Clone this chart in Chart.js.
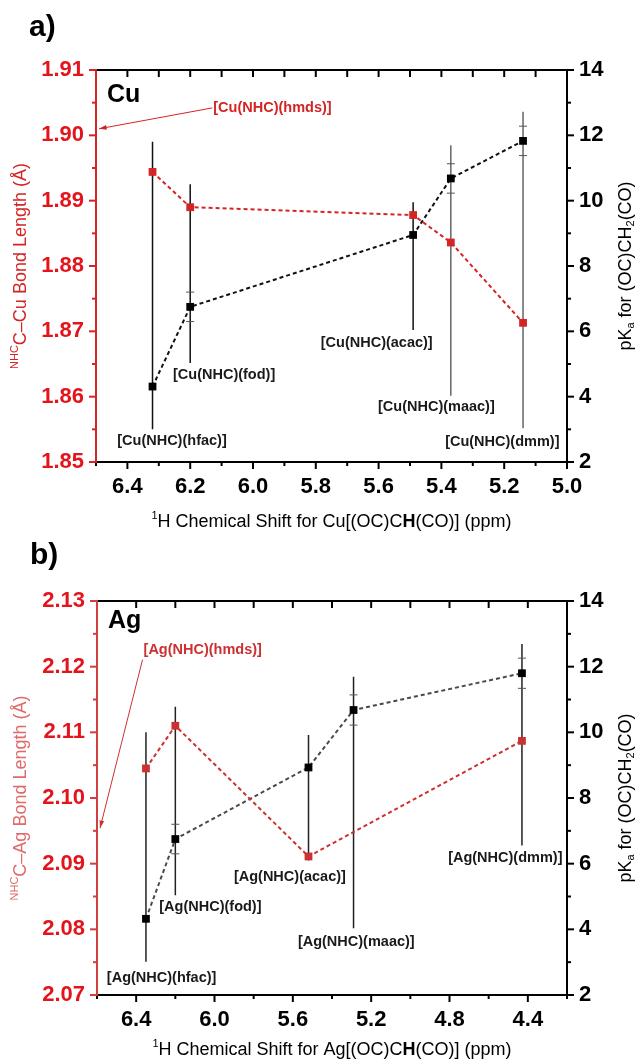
<!DOCTYPE html>
<html>
<head>
<meta charset="utf-8">
<script src="https://cdn.jsdelivr.net/npm/chart.js@4"></script>
<style>
  body { margin: 0; background: #fff; }
  canvas { position: absolute; left: 0; }
</style>
</head>
<body>
<canvas id="cuChart" width="635" height="532" style="top:0"></canvas>
<canvas id="agChart" width="635" height="529" style="top:532px"></canvas>
<script>
// ---- panel a : Cu ----
var cuLabels = ["[Cu(NHC)(hfac)]", "[Cu(NHC)(fod)]", "[Cu(NHC)(acac)]", "[Cu(NHC)(maac)]", "[Cu(NHC)(dmm)]"];
var cuShift = [6.32, 6.20, 5.49, 5.37, 5.14];          // ppm
var cuBond = [1.8944, 1.8890, 1.8878, 1.8836, 1.8713]; // Å
var cuPka = [4.31, 6.75, 8.95, 10.68, 11.83];
var cuPkaErr = [null, 0.45, null, 0.45, 0.45];
var cuLineTop = [11.8, 10.5, 9.95, 11.7, 12.72];       // leader lines, pKa units
var cuLineBottom = [3.0, 5.03, 6.04, 4.03, 3.03];
var cuHmdsBond = 1.901;
var cuTicksX = [6.4, 6.2, 6.0, 5.8, 5.6, 5.4, 5.2, 5.0];
var cuTicksBond = [1.85, 1.86, 1.87, 1.88, 1.89, 1.90, 1.91];

// ---- panel b : Ag ----
var agLabels = ["[Ag(NHC)(hfac)]", "[Ag(NHC)(fod)]", "[Ag(NHC)(acac)]", "[Ag(NHC)(maac)]", "[Ag(NHC)(dmm)]"];
var agShift = [6.35, 6.20, 5.52, 5.29, 4.43];
var agBond = [2.1045, 2.1110, 2.0911, null, 2.1087];
var agPka = [4.32, 6.75, 8.93, 10.68, 11.80];
var agPkaErr = [null, 0.45, null, 0.46, 0.46];
var agLineTop = [10.0, 10.78, 9.92, 11.69, 12.69];
var agLineBottom = [3.01, 5.04, 6.1, 4.03, 6.55];
var agHmdsBond = 2.0954;
var agTicksX = [6.4, 6.0, 5.6, 5.2, 4.8, 4.4];
var agTicksBond = [2.07, 2.08, 2.09, 2.10, 2.11, 2.12, 2.13];

var pkaTicks = [2, 4, 6, 8, 10, 12, 14];

var FONT = '"Liberation Sans", Arial, sans-serif';

function partFont(p, size) {
  var s = (p[1] == 'sup' || p[1] == 'sub') ? Math.round(size * 0.62) : size;
  return (p[1] == 'b' ? 'bold ' : '') + s + 'px ' + FONT;
}
function drawRich(ctx, parts, size, cx, cy, angle, color) {
  ctx.save();
  ctx.translate(cx, cy);
  ctx.rotate(angle);
  ctx.fillStyle = color;
  ctx.textBaseline = 'middle';
  ctx.textAlign = 'left';
  var w = 0;
  parts.forEach(function (p) { ctx.font = partFont(p, size); w += ctx.measureText(p[0]).width; });
  var x = -w / 2;
  parts.forEach(function (p) {
    ctx.font = partFont(p, size);
    var dy = p[1] == 'sup' ? -size * 0.35 : (p[1] == 'sub' ? size * 0.3 : 0);
    ctx.fillText(p[0], x, dy);
    x += ctx.measureText(p[0]).width;
  });
  ctx.restore();
}
function steps(min, max, step) {
  var out = [];
  for (var k = Math.ceil(min / step - 1e-6); k <= Math.floor(max / step + 1e-6); k++) out.push(k * step);
  return out;
}
function isMajor(v, list) {
  return list.some(function (m) { return Math.abs(m - v) < 1e-6; });
}

// frame, tick marks, error caps, texts
var deco = {
  id: 'deco',
  afterDraw: function (chart, args, o) {
    var ctx = chart.ctx, a = chart.chartArea;
    var sx = chart.scales.x, sy = chart.scales.y, sy2 = chart.scales.y2;
    ctx.save();
    ctx.lineCap = 'butt';

    // tick marks
    ctx.lineWidth = 2;
    ctx.strokeStyle = '#000';
    steps(sx.min, sx.max, o.xMinor).forEach(function (v) {
      var px = sx.getPixelForValue(v), len = isMajor(v, o.ticksX) ? 7 : 4;
      ctx.beginPath(); ctx.moveTo(px, a.bottom); ctx.lineTo(px, a.bottom + len); ctx.stroke();
    });
    steps(sx.min, sx.max, o.topStep).forEach(function (v) {
      var px = sx.getPixelForValue(v);
      ctx.beginPath(); ctx.moveTo(px, a.top); ctx.lineTo(px, a.top + 7); ctx.stroke();
    });
    steps(sy2.min, sy2.max, 1).forEach(function (v) {
      var py = sy2.getPixelForValue(v), len = isMajor(v, pkaTicks) ? 7 : 4;
      ctx.beginPath(); ctx.moveTo(a.right, py); ctx.lineTo(a.right + len, py); ctx.stroke();
    });
    ctx.strokeStyle = o.axisRed;
    steps(sy.min, sy.max, 0.005).forEach(function (v) {
      var py = sy.getPixelForValue(v), len = isMajor(v, o.ticksBond) ? 7 : 4;
      ctx.beginPath(); ctx.moveTo(a.left - len, py); ctx.lineTo(a.left, py); ctx.stroke();
    });

    // frame
    ctx.strokeStyle = '#000';
    ctx.beginPath();
    ctx.moveTo(a.left, a.top); ctx.lineTo(a.right, a.top); ctx.lineTo(a.right, a.bottom); ctx.lineTo(a.left, a.bottom);
    ctx.stroke();
    ctx.strokeStyle = o.axisRed;
    ctx.beginPath(); ctx.moveTo(a.left, a.top - 1); ctx.lineTo(a.left, a.bottom + 1); ctx.stroke();

    // error caps on pKa points
    ctx.lineWidth = 1;
    ctx.strokeStyle = '#555';
    o.shift.forEach(function (x, i) {
      if (o.err[i] == null) return;
      var px = sx.getPixelForValue(x);
      [o.pka[i] + o.err[i], o.pka[i] - o.err[i]].forEach(function (v) {
        var py = sy2.getPixelForValue(v);
        ctx.beginPath(); ctx.moveTo(px - 4, py); ctx.lineTo(px + 4, py); ctx.stroke();
      });
    });

    // compound labels
    ctx.fillStyle = '#1a1a1a';
    ctx.font = 'bold 14.5px ' + FONT;
    ctx.textAlign = 'center';
    ctx.textBaseline = 'middle';
    o.names.forEach(function (t, i) {
      ctx.fillText(t, sx.getPixelForValue(o.labelAt[i][0]), sy2.getPixelForValue(o.labelAt[i][1]));
    });

    // hmds annotation with arrow to the bond axis
    var tx = sx.getPixelForValue(o.hmdsAt[0]), ty = sy.getPixelForValue(o.hmdsAt[1]);
    ctx.fillStyle = o.red;
    ctx.fillText(o.hmdsName, tx, ty);
    var x0 = tx - ctx.measureText(o.hmdsName).width / 2 - 1, y0 = ty + o.arrowDy;
    var x1 = a.left + 3, y1 = sy.getPixelForValue(o.hmds);
    ctx.strokeStyle = o.red;
    ctx.lineWidth = 1;
    ctx.beginPath(); ctx.moveTo(x0, y0); ctx.lineTo(x1, y1); ctx.stroke();
    var ang = Math.atan2(y1 - y0, x1 - x0);
    ctx.beginPath();
    ctx.moveTo(x1, y1);
    ctx.lineTo(x1 - 8 * Math.cos(ang - 0.3), y1 - 8 * Math.sin(ang - 0.3));
    ctx.lineTo(x1 - 8 * Math.cos(ang + 0.3), y1 - 8 * Math.sin(ang + 0.3));
    ctx.closePath(); ctx.fill();

    // panel letter and metal
    ctx.fillStyle = '#000';
    ctx.textAlign = 'left';
    ctx.textBaseline = 'alphabetic';
    ctx.font = 'bold 30px ' + FONT;
    ctx.fillText(o.letter, o.letterPos[0], o.letterPos[1]);
    ctx.font = 'bold 25px ' + FONT;
    ctx.fillText(o.metal, a.left + 11, a.top + o.metalDy);

    // axis titles
    var cy = (a.top + a.bottom) / 2;
    drawRich(ctx, o.leftTitle, 18, 21, cy, -Math.PI / 2, o.titleRed);
    drawRich(ctx, [['pK', ''], ['a', 'sub'], [' for (OC)CH', ''], ['2', 'sub'], ['(CO)', '']], 18, 626, cy, -Math.PI / 2, '#000');
    drawRich(ctx, o.xTitle, 18, (a.left + a.right) / 2, o.xTitleY, 0, '#000');
    ctx.restore();
  }
};

function makePanel(id, d, look) {
  var datasets = [
    {
      data: d.shift.map(function (x, i) { return { x: x, y: d.bond[i] }; }),
      yAxisID: 'y', showLine: true, spanGaps: true,
      borderColor: look.red, backgroundColor: look.red, borderWidth: 2, borderDash: [4, 3],
      pointStyle: 'rect', pointRadius: 5.5, pointBorderWidth: 0
    },
    {
      data: d.shift.map(function (x, i) { return { x: x, y: d.pka[i] }; }),
      yAxisID: 'y2', showLine: true,
      borderColor: look.blackLine, backgroundColor: '#000', borderWidth: 2, borderDash: [4, 3],
      pointStyle: 'rect', pointRadius: 5.5, pointBorderWidth: 0
    }
  ];
  d.shift.forEach(function (x, i) {
    datasets.push({
      data: [{ x: x, y: d.lineTop[i] }, { x: x, y: d.lineBottom[i] }],
      yAxisID: 'y2', showLine: true, borderColor: look.lead[i], borderWidth: 1.5, pointRadius: 0
    });
  });

  var tickFont = { family: FONT, size: 22, weight: 'bold' };
  new Chart(document.getElementById(id), {
    type: 'scatter',
    data: { datasets: datasets },
    plugins: [deco],
    options: {
      responsive: false,
      animation: false,
      layout: { padding: { top: look.top, left: 0, right: 0, bottom: 0 } },
      plugins: {
        legend: { display: false },
        tooltip: { enabled: false },
        deco: Object.assign({}, look, {
          shift: d.shift, pka: d.pka, err: d.err, names: d.names, hmds: d.hmds,
          ticksX: d.ticksX, ticksBond: d.ticksBond
        })
      },
      scales: {
        x: {
          type: 'linear', position: 'bottom', reverse: true, min: look.xMin, max: look.xMax,
          grid: { display: false, drawTicks: false }, border: { display: false },
          ticks: { color: '#000', font: tickFont, padding: 12, autoSkip: false, maxRotation: 0,
                   callback: function (v) { return v.toFixed(1); } },
          afterBuildTicks: function (s) { s.ticks = d.ticksX.map(function (v) { return { value: v }; }); },
          afterFit: function (s) { s.height = look.bottomH; }
        },
        y: {
          position: 'left', min: d.ticksBond[0], max: d.ticksBond[d.ticksBond.length - 1],
          grid: { display: false, drawTicks: false }, border: { display: false },
          ticks: { color: look.tickRed, font: tickFont, padding: 12, autoSkip: false,
                   callback: function (v) { return v.toFixed(2); } },
          afterBuildTicks: function (s) { s.ticks = d.ticksBond.map(function (v) { return { value: v }; }); },
          afterFit: function (s) { s.width = look.leftW; }
        },
        y2: {
          position: 'right', min: 2, max: 14,
          grid: { display: false, drawTicks: false }, border: { display: false },
          ticks: { color: '#000', font: tickFont, padding: 12, autoSkip: false },
          afterBuildTicks: function (s) { s.ticks = pkaTicks.map(function (v) { return { value: v }; }); },
          afterFit: function (s) { s.width = look.rightW; }
        }
      }
    }
  });
}

makePanel('cuChart', {
  names: cuLabels, shift: cuShift, bond: cuBond, pka: cuPka, err: cuPkaErr,
  lineTop: cuLineTop, lineBottom: cuLineBottom, hmds: cuHmdsBond,
  ticksX: cuTicksX, ticksBond: cuTicksBond
}, {
  top: 70, leftW: 96, rightW: 68, bottomH: 70, xMin: 5.0, xMax: 6.5, xMinor: 0.1, topStep: 0.1,
  red: '#d42424', tickRed: '#e3141c', axisRed: '#d42424', titleRed: '#d42424',
  blackLine: '#111', lead: ['#111', '#111', '#111', '#666', '#666'],
  labelAt: [[6.258, 2.65], [6.092, 4.66], [5.606, 5.65], [5.416, 3.68], [5.206, 2.62]],
  hmdsName: '[Cu(NHC)(hmds)]', hmdsAt: [5.938, 1.9042], arrowDy: 0,
  letter: 'a)', letterPos: [29, 36], metal: 'Cu', metalDy: 32, xTitleY: 522,
  leftTitle: [['NHC', 'sup'], ['C\u2013Cu Bond Length (\u00c5)', '']],
  xTitle: [['1', 'sup'], ['H Chemical Shift for Cu[(OC)C', ''], ['H', 'b'], ['(CO)] (ppm)', '']]
});

makePanel('agChart', {
  names: agLabels, shift: agShift, bond: agBond, pka: agPka, err: agPkaErr,
  lineTop: agLineTop, lineBottom: agLineBottom, hmds: agHmdsBond,
  ticksX: agTicksX, ticksBond: agTicksBond
}, {
  top: 69, leftW: 97, rightW: 68, bottomH: 66, xMin: 4.2, xMax: 6.6, xMinor: 0.2, topStep: 0.2,
  red: '#cc3030', tickRed: '#e3141c', axisRed: '#d04040', titleRed: '#e06a6a',
  blackLine: '#4a4a4a', lead: ['#222', '#222', '#222', '#222', '#222'],
  labelAt: [[6.27, 2.51], [6.021, 4.67], [5.615, 5.6], [5.276, 3.6], [4.515, 6.16]],
  hmdsName: '[Ag(NHC)(hmds)]', hmdsAt: [6.06, 2.1226], arrowDy: 10,
  letter: 'b)', letterPos: [30, 32], metal: 'Ag', metalDy: 27, xTitleY: 518,
  leftTitle: [['NHC', 'sup'], ['C\u2013Ag Bond Length (\u00c5)', '']],
  xTitle: [['1', 'sup'], ['H Chemical Shift for Ag[(OC)C', ''], ['H', 'b'], ['(CO)] (ppm)', '']]
});
</script>
</body>
</html>
